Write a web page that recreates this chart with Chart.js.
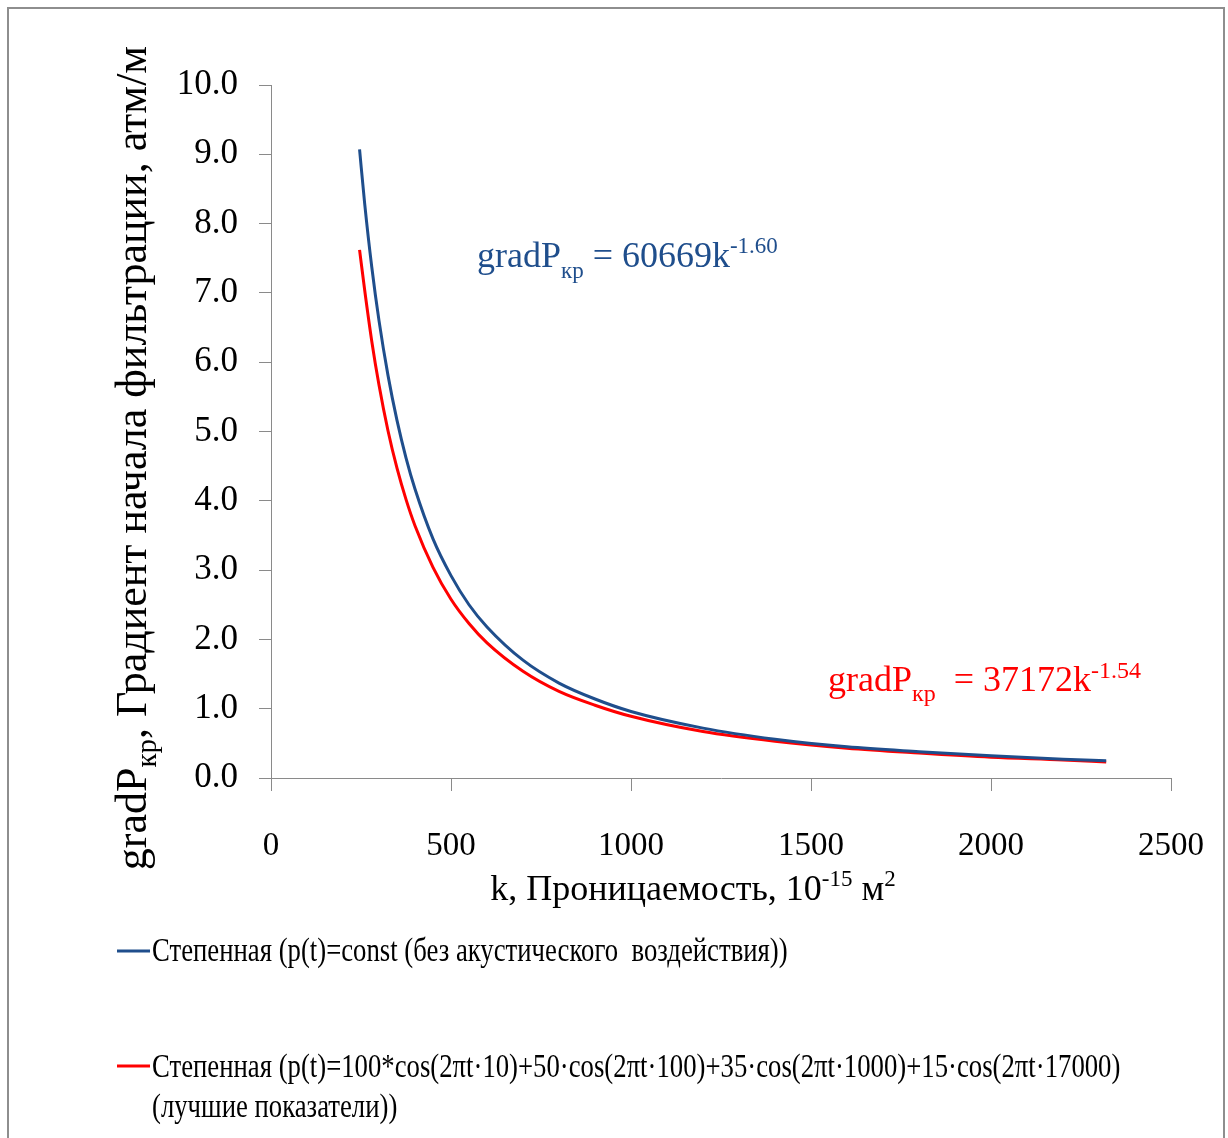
<!DOCTYPE html>
<html><head><meta charset="utf-8">
<script src="https://cdn.jsdelivr.net/npm/chart.js@4.4.1/dist/chart.umd.min.js"></script>
<style>
html,body{margin:0;padding:0;background:#fff;overflow:hidden}
#wrap{position:relative;width:1228px;height:1138px}
#frame{position:absolute;left:7px;top:7px;width:1218px;height:1200px;border:2px solid #8e8e8e;box-sizing:border-box}
canvas{position:absolute;left:0;top:0}
</style></head><body>
<div id="wrap"><div id="frame"></div><canvas id="c" width="1228" height="1138"></canvas></div>
<script>
// ---- data ----
const kValues      = [246, 260, 280, 300, 325, 350, 375, 400, 450, 500, 550, 600, 700, 800, 900, 1000, 1200, 1400, 1600, 1800, 2000, 2200, 2320];
const gradConst    = [9.07, 8.30, 7.37, 6.60, 5.81, 5.16, 4.62, 4.17, 3.45, 2.92, 2.50, 2.18, 1.70, 1.37, 1.14, 0.96, 0.72, 0.56, 0.45, 0.38, 0.32, 0.27, 0.25];
const gradAcoustic = [7.62, 7.05, 6.30, 5.67, 5.01, 4.47, 4.02, 3.64, 3.04, 2.58, 2.23, 1.95, 1.54, 1.25, 1.05, 0.89, 0.67, 0.53, 0.43, 0.36, 0.30, 0.26, 0.23];
const xTicks = [0, 500, 1000, 1500, 2000, 2500];
const yTicks = [0, 1, 2, 3, 4, 5, 6, 7, 8, 9, 10];
const seriesNames = [
  "Степенная (p(t)=const (без акустического  воздействия))",
  "Степенная (p(t)=100*cos(2πt·10)+50·cos(2πt·100)+35·cos(2πt·1000)+15·cos(2πt·17000)",
  "(лучшие показатели))"
];
const eqBlue = ["gradP", "кр", " = 60669k", "-1.60"];
const eqRed  = ["gradP", "кр", "  = 37172k", "-1.54"];
const yTitle = ["gradP", "кр", ", Градиент начала фильтрации, атм/м"];
const xTitle = ["k, Проницаемость, 10", "-15", " м", "2"];

const BLUE = "#1F4E8C", RED = "#FF0000", AXIS = "#8a8a8a";
const FAM = "'Liberation Serif','Times New Roman',serif";

function drawRich(ctx, parts, x, y, align, color) {
  ctx.fillStyle = color;
  ctx.textBaseline = "alphabetic";
  ctx.textAlign = "left";
  let w = 0;
  parts.forEach(p => { ctx.font = p.size + "px " + FAM; p.w = ctx.measureText(p.t).width; w += p.w; });
  let cx = align === "center" ? x - w / 2 : x;
  parts.forEach(p => { ctx.font = p.size + "px " + FAM; ctx.fillText(p.t, cx, y + (p.dy || 0)); cx += p.w; });
}

const textPlugin = {
  id: "texts",
  afterDraw(chart) {
    const ctx = chart.ctx;
    ctx.save();
    // equations
    drawRich(ctx, [{t: eqBlue[0], size: 36}, {t: eqBlue[1], size: 23, dy: 11}, {t: eqBlue[2], size: 36}, {t: eqBlue[3], size: 23, dy: -14}], 477, 267, "left", BLUE);
    drawRich(ctx, [{t: eqRed[0], size: 36}, {t: eqRed[1], size: 24, dy: 10}, {t: eqRed[2], size: 36}, {t: eqRed[3], size: 24, dy: -13}], 828, 691, "left", RED);
    // x title
    drawRich(ctx, [{t: xTitle[0], size: 36}, {t: xTitle[1], size: 23, dy: -14}, {t: xTitle[2], size: 36}, {t: xTitle[3], size: 23, dy: -14}], 693, 900, "center", "#000");
    // y title
    ctx.save();
    ctx.translate(146, 458);
    ctx.rotate(-Math.PI / 2);
    drawRich(ctx, [{t: yTitle[0], size: 44}, {t: yTitle[1], size: 29, dy: 10}, {t: yTitle[2], size: 44}], 0, 0, "center", "#000");
    ctx.restore();
    // legend
    const items = [
      {color: BLUE, ly: 951, lines: [[seriesNames[0], 961]]},
      {color: RED, ly: 1066, lines: [[seriesNames[1], 1077], [seriesNames[2], 1117]]}
    ];
    items.forEach(it => {
      ctx.strokeStyle = it.color; ctx.lineWidth = 3;
      ctx.beginPath(); ctx.moveTo(117, it.ly); ctx.lineTo(150, it.ly); ctx.stroke();
      it.lines.forEach(([t, by]) => {
        ctx.save();
        ctx.translate(152, by);
        ctx.scale(0.81, 1);
        ctx.font = "33px " + FAM;
        ctx.fillStyle = "#000"; ctx.textAlign = "left"; ctx.textBaseline = "alphabetic";
        ctx.fillText(t, 0, 0);
        ctx.restore();
      });
    });
    ctx.restore();
  }
};

new Chart(document.getElementById("c"), {
  type: "scatter",
  data: {
    datasets: [
      {label: seriesNames[0], data: kValues.map((k, i) => ({x: k, y: gradConst[i]})), borderColor: BLUE, borderWidth: 3, showLine: true, pointRadius: 0, cubicInterpolationMode: "monotone"},
      {label: seriesNames[1], data: kValues.map((k, i) => ({x: k, y: gradAcoustic[i]})), borderColor: RED, borderWidth: 3, showLine: true, pointRadius: 0, cubicInterpolationMode: "monotone"}
    ]
  },
  options: {
    responsive: false,
    animation: false,
    devicePixelRatio: 1,
    layout: {padding: {left: 0, right: 57, top: 85, bottom: 260}},
    plugins: {legend: {display: false}, tooltip: {enabled: false}},
    scales: {
      x: {
        type: "linear", min: 0, max: 2500,
        afterBuildTicks: s => { s.ticks = xTicks.map(v => ({value: v})); },
        afterFit: s => { s.height = 100; s.paddingLeft = 0; s.paddingRight = 0; },
        grid: {drawOnChartArea: false, drawTicks: true, tickLength: 13, color: AXIS, lineWidth: 1},
        border: {display: true, color: AXIS, width: 1},
        ticks: {font: {family: FAM, size: 33}, color: "#000", padding: 36, maxRotation: 0, callback: v => String(v)}
      },
      y: {
        type: "linear", min: 0, max: 10,
        afterBuildTicks: s => { s.ticks = yTicks.map(v => ({value: v})); },
        afterFit: s => { s.width = 271; s.paddingTop = 0; s.paddingBottom = 0; },
        grid: {drawOnChartArea: false, drawTicks: true, tickLength: 12, color: AXIS, lineWidth: 1},
        border: {display: true, color: AXIS, width: 1},
        ticks: {font: {family: FAM, size: 35}, color: "#000", padding: 21, callback: v => Number(v).toFixed(1)}
      }
    }
  },
  plugins: [textPlugin]
});
</script>
</body></html>
